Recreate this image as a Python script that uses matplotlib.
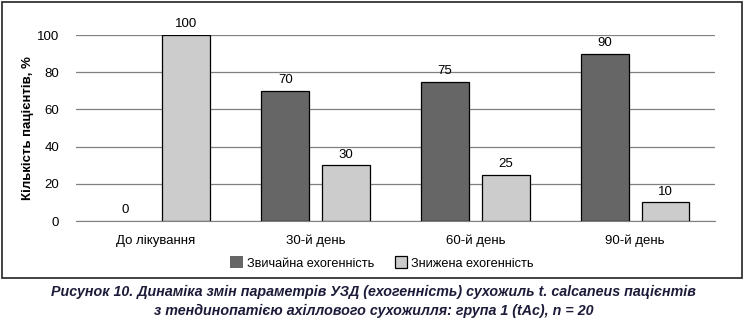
import matplotlib.pyplot as plt
import numpy as np
from matplotlib.patches import Rectangle

plt.rcParams['font.family'] = ['Liberation Sans', 'DejaVu Sans']

categories = ['До лікування', '30-й день', '60-й день', '90-й день']
normal_echo = [0, 70, 75, 90]
reduced_echo = [100, 30, 25, 10]
series_names = ['Звичайна ехогенність', 'Знижена ехогенність']

W, H = 747, 323
fig = plt.figure(figsize=(W / 100, H / 100), dpi=100)

# рамка навколо діаграми
fig.patches.append(Rectangle((2 / W, 1 - 278 / H), 740 / W, 276 / H,
                             transform=fig.transFigure, fill=False,
                             edgecolor='#222222', linewidth=1.2))

ax = fig.add_axes([76 / W, 1 - 221 / H, 639 / W, 186 / H])
x = np.arange(len(categories))
w = 0.3
b1 = ax.bar(x - 0.19, normal_echo, w, color='#666666', edgecolor='black',
            linewidth=[0.9 if v else 0 for v in normal_echo],
            label=series_names[0], zorder=3)
b2 = ax.bar(x + 0.19, reduced_echo, w, color='#cccccc', edgecolor='black',
            linewidth=[0.9 if v else 0 for v in reduced_echo],
            label=series_names[1], zorder=3)

for bars, vals in ((b1, normal_echo), (b2, reduced_echo)):
    for r, v in zip(bars, vals):
        ax.text(r.get_x() + r.get_width() / 2, v + 2.5, str(v),
                ha='center', va='bottom', fontsize=9.5)

ax.set_xlim(-0.5, 3.5)
ax.set_ylim(0, 100)
ax.set_yticks(range(0, 101, 20))
ax.yaxis.grid(True, color='#808080', linewidth=0.9, zorder=0)
ax.set_xticks(x)
ax.set_xticklabels(categories, fontsize=9.5)
ax.tick_params(axis='both', length=0, labelsize=9.5)
ax.tick_params(axis='x', pad=10)
ax.tick_params(axis='y', pad=12)
for s in ('top', 'right', 'left'):
    ax.spines[s].set_visible(False)
ax.spines['bottom'].set_color('#808080')
ax.set_ylabel('Кількість пацієнтів, %', fontsize=9.5, fontweight='bold',
              labelpad=2)

fig.legend(handles=[b1, b2], loc='center', bbox_to_anchor=(382 / W, 1 - 263 / H),
           ncol=2, frameon=False, fontsize=9.2, handlelength=1.0,
           handleheight=1.0, handletextpad=0.3, columnspacing=1.6)

caption_color = '#1c1c3a'
fig.text(0.5, 1 - 292 / H,
         'Рисунок 10. Динаміка змін параметрів УЗД (ехогенність) сухожиль t. calcaneus пацієнтів',
         ha='center', va='center', fontsize=10.3, fontweight='bold',
         style='italic', color=caption_color)
fig.text(0.5, 1 - 311 / H,
         'з тендинопатією ахіллового сухожилля: група 1 (tAc), n = 20',
         ha='center', va='center', fontsize=10.3, fontweight='bold',
         style='italic', color=caption_color)

fig.savefig('out.png', dpi=100)
